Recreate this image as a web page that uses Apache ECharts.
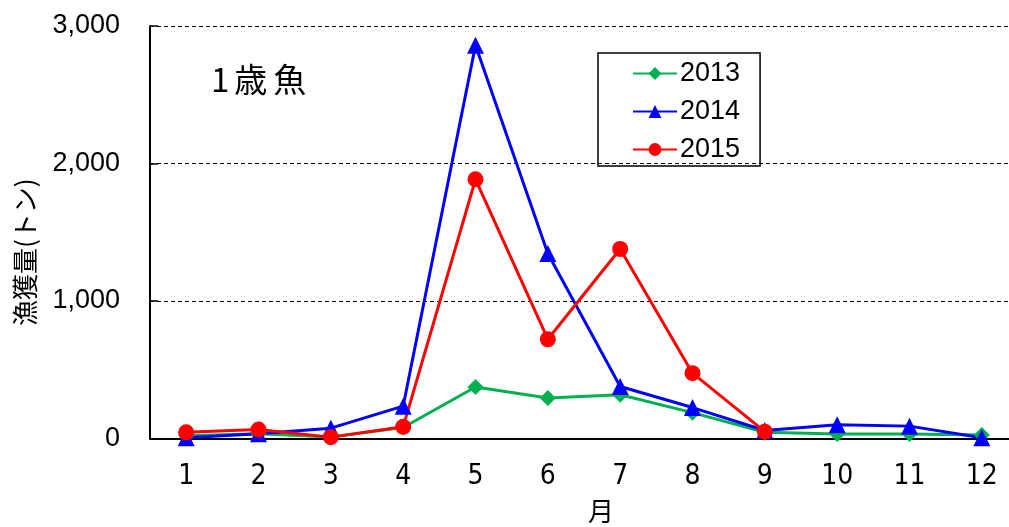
<!DOCTYPE html>
<html>
<head>
<meta charset="utf-8">
<script src="https://cdn.jsdelivr.net/npm/echarts@6/dist/echarts.min.js"></script>
<style>
  html, body { margin: 0; padding: 0; background: #fff; overflow: hidden; }
  #chart { width: 1018px; height: 527px; }
</style>
</head>
<body>
<div id="chart"></div>
<script>
// Monthly catch of 1-year-old fish (tonnes)
const months = ['1', '2', '3', '4', '5', '6', '7', '8', '9', '10', '11', '12'];
const catch2013 = [20, 35, 10, 80, 375, 295, 318, 188, 45, 33, 33, 25];
const catch2014 = [5, 35, 75, 235, 2860, 1345, 378, 225, 58, 100, 90, 5];
const catch2015 = [45, 65, 10, 85, 1885, 722, 1378, 475, 50, null, null, null];
const yTicks = [0, 1000, 2000, 3000];

const cjk = '"Noto Sans CJK JP", "Noto Sans", sans-serif';
const narrow = '"Liberation Sans Narrow", "DejaVu Sans Condensed", "Liberation Sans", sans-serif';
const sans = '"Liberation Sans", Arial, sans-serif';

const chart = echarts.init(document.getElementById('chart'), null, { renderer: 'canvas' });

function lineSeries(name, data, color, symbol, size) {
  return {
    name: name,
    type: 'line',
    data: data,
    symbol: symbol,
    symbolSize: size,
    showAllSymbol: true,
    connectNulls: false,
    lineStyle: { color: color, width: 3 },
    itemStyle: { color: color },
    emphasis: { disabled: true },
    animation: false
  };
}

const titleChar = { fontFamily: cjk, fontSize: 33, color: '#000', padding: [0, 3, 0, 3] };

chart.setOption({
  animation: false,
  backgroundColor: '#ffffff',
  title: {
    text: '{d|1}{c|歳}{c|魚}',
    left: 206,
    top: 58,
    textStyle: {
      fontFamily: cjk, fontSize: 33, fontWeight: 'normal', color: '#000',
      rich: {
        d: { fontFamily: cjk, fontSize: 33, color: '#000', padding: [0, 2, 0, 0] },
        c: titleChar
      }
    }
  },
  legend: {
    orient: 'vertical',
    left: 598,
    top: 53,
    padding: [7, 20, 3, 34],
    itemGap: 11,
    itemWidth: 44,
    itemHeight: 16,
    borderColor: '#000',
    borderWidth: 1.5,
    borderRadius: 0,
    textStyle: { fontFamily: sans, fontSize: 27, color: '#000', padding: [0, 0, 0, -2] },
    data: ['2013', '2014', '2015']
  },
  grid: { left: 150, top: 26, right: 0, bottom: 88.5, containLabel: false, outerBoundsMode: 'none' },
  xAxis: {
    type: 'category',
    data: months,
    boundaryGap: true,
    name: '月',
    nameLocation: 'middle',
    nameGap: 60,
    nameTextStyle: { fontFamily: cjk, fontSize: 26, color: '#000', padding: [0, 0, 0, 34] },
    axisLine: { lineStyle: { color: '#000', width: 2 } },
    axisTick: { inside: true, length: 8, lineStyle: { color: '#000', width: 1.5 }, alignWithLabel: false },
    axisLabel: { fontFamily: narrow, fontSize: 28, color: '#000', margin: 24 },
    splitLine: { show: false }
  },
  yAxis: {
    type: 'value',
    min: yTicks[0],
    max: yTicks[yTicks.length - 1],
    interval: yTicks[1] - yTicks[0],
    name: '漁獲量(トン)',
    nameLocation: 'middle',
    nameGap: 112,
    nameTextStyle: { fontFamily: cjk, fontSize: 26, color: '#000', padding: [0, 40, 0, 0] },
    axisLine: { show: true, lineStyle: { color: '#000', width: 2 } },
    axisTick: { show: true, inside: true, length: 8, lineStyle: { color: '#000', width: 1.5 } },
    axisLabel: {
      fontFamily: sans,
      fontSize: 27,
      color: '#000',
      margin: 30,
      formatter: v => v.toLocaleString('en-US')
    },
    splitLine: { show: true, lineStyle: { color: '#000', type: [4, 3], width: 1 } }
  },
  series: [
    lineSeries('2013', catch2013, '#00B050', 'diamond', 16),
    lineSeries('2014', catch2014, '#0000FF', 'triangle', 17),
    lineSeries('2015', catch2015, '#FF0000', 'circle', 16)
  ]
});
</script>
</body>
</html>
